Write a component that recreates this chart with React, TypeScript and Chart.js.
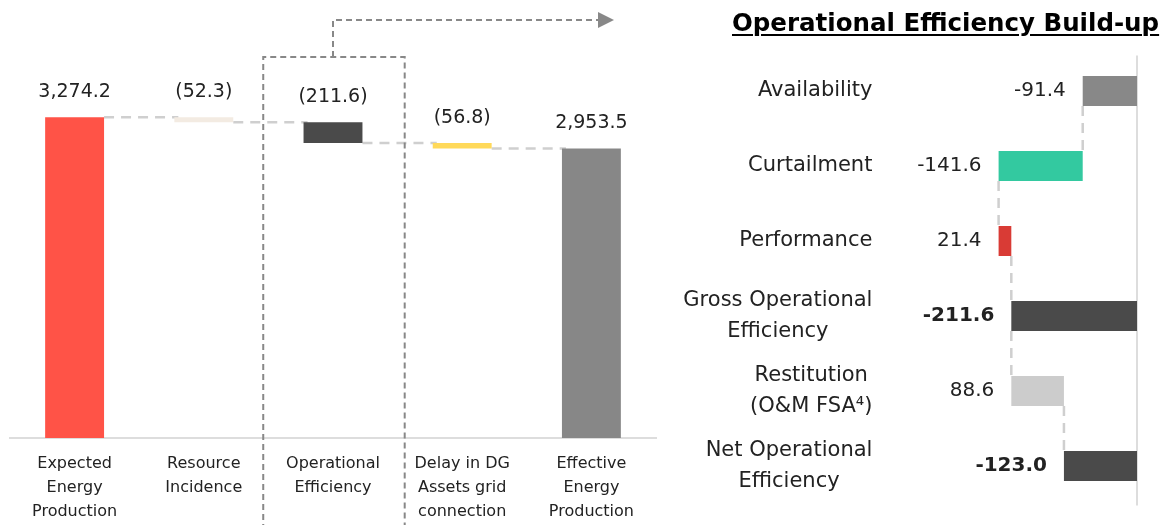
import React, { useEffect, useRef } from "react";
import { Chart, registerables } from "chart.js";

Chart.register(...registerables);

const FONT = "'DejaVu Sans', sans-serif";
const TEXT = "#222222";

// ---- Left: energy bridge ----
const bridgeCategories = [
  ["Expected", "Energy", "Production"],
  ["Resource", "Incidence"],
  ["Operational", "Efficiency"],
  ["Delay in DG", "Assets grid", "connection"],
  ["Effective", "Energy", "Production"],
];
const bridgeValues = [3274.2, -52.3, -211.6, -56.8, 2953.5];
const bridgeKinds = ["total", "delta", "delta", "delta", "total"];
const bridgeLabels = ["3,274.2", "(52.3)", "(211.6)", "(56.8)", "2,953.5"];
const bridgeColors = ["#FF5347", "#F3EBE2", "#4A4A4A", "#FFD95A", "#878787"];
const bridgeAxisMax = 4000;
const bridgeHighlight = 2;

// ---- Right: operational efficiency build-up ----
const buildCategories = [
  ["Availability"],
  ["Curtailment"],
  ["Performance"],
  ["Gross Operational", "Efficiency"],
  ["Restitution", "(O&M FSA\u2074)"],
  ["Net Operational", "Efficiency"],
];
const buildValues = [-91.4, -141.6, 21.4, -211.6, 88.6, -123.0];
const buildKinds = ["delta", "delta", "delta", "total", "delta", "total"];
const buildLabels = ["-91.4", "-141.6", "21.4", "-211.6", "88.6", "-123.0"];
const buildBold = [false, false, false, true, false, true];
const buildColors = ["#888888", "#33C9A0", "#D93B35", "#4A4A4A", "#CCCCCC", "#4A4A4A"];
const buildAxisMin = -400;

function waterfall(values: number[], kinds: string[]) {
  let run = 0;
  const ranges: [number, number][] = [];
  const levels: number[] = [];
  values.forEach((v, i) => {
    if (kinds[i] === "total") {
      run = v;
      ranges.push([0, v]);
    } else {
      const s = run;
      run += v;
      ranges.push([s, run]);
    }
    levels.push(run);
  });
  return { ranges, levels };
}

const bridgePlugin = {
  id: "bridgeDeco",
  beforeDatasetsDraw(chart: any) {
    const { ctx } = chart;
    const meta = chart.getDatasetMeta(0);
    const y = chart.scales.y;
    const { levels } = waterfall(bridgeValues, bridgeKinds);
    ctx.save();
    ctx.strokeStyle = "#CFCFCF";
    ctx.lineWidth = 2.5;
    ctx.setLineDash([10, 7]);
    for (let i = 0; i < meta.data.length - 1; i++) {
      const a = meta.data[i];
      const b = meta.data[i + 1];
      const py = y.getPixelForValue(levels[i]);
      ctx.beginPath();
      ctx.moveTo(a.x + a.width / 2, py);
      ctx.lineTo(b.x - b.width / 2 + 4, py);
      ctx.stroke();
    }
    ctx.restore();
  },
  afterDatasetsDraw(chart: any) {
    const { ctx, chartArea } = chart;
    const meta = chart.getDatasetMeta(0);
    ctx.save();
    ctx.font = `19px ${FONT}`;
    ctx.fillStyle = TEXT;
    ctx.textAlign = "center";
    ctx.textBaseline = "middle";
    meta.data.forEach((el: any, i: number) => {
      const top = Math.min(el.y, el.base);
      ctx.fillText(bridgeLabels[i], el.x, top - 25);
    });
    ctx.restore();

    // highlight box + arrow
    const x = chart.scales.x;
    const cw = (chartArea.right - chartArea.left) / bridgeCategories.length;
    const cx = x.getPixelForValue(bridgeHighlight);
    const l = cx - cw * 0.54;
    const r = cx + cw * 0.555;
    const t = chartArea.top + 11;
    const ay = chartArea.top - 26;
    const tip = chartArea.right - 42;
    ctx.save();
    ctx.strokeStyle = "#888888";
    ctx.lineWidth = 2;
    ctx.setLineDash([6, 4]);
    ctx.beginPath();
    ctx.moveTo(l, chart.height);
    ctx.lineTo(l, t);
    ctx.lineTo(r, t);
    ctx.lineTo(r, chart.height);
    ctx.stroke();
    ctx.beginPath();
    ctx.moveTo(cx, t);
    ctx.lineTo(cx, ay);
    ctx.lineTo(tip - 14, ay);
    ctx.stroke();
    ctx.setLineDash([]);
    ctx.fillStyle = "#888888";
    ctx.beginPath();
    ctx.moveTo(tip, ay);
    ctx.lineTo(tip - 16, ay - 8);
    ctx.lineTo(tip - 16, ay + 8);
    ctx.closePath();
    ctx.fill();
    ctx.restore();
  },
};

const buildPlugin = {
  id: "buildDeco",
  beforeDatasetsDraw(chart: any) {
    const { ctx, chartArea } = chart;
    const meta = chart.getDatasetMeta(0);
    const x = chart.scales.x;
    const { levels } = waterfall(buildValues, buildKinds);
    ctx.save();
    // zero line
    ctx.strokeStyle = "#DDDDDD";
    ctx.lineWidth = 2;
    const zx = x.getPixelForValue(0);
    ctx.beginPath();
    ctx.moveTo(zx, chartArea.top + 2);
    ctx.lineTo(zx, chartArea.bottom + 2);
    ctx.stroke();
    // connectors
    ctx.strokeStyle = "#CFCFCF";
    ctx.lineWidth = 2.5;
    ctx.setLineDash([10, 7]);
    for (let i = 0; i < meta.data.length - 1; i++) {
      const a = meta.data[i];
      const b = meta.data[i + 1];
      const px = x.getPixelForValue(levels[i]);
      ctx.beginPath();
      ctx.moveTo(px, a.y + a.height / 2);
      ctx.lineTo(px, b.y - b.height / 2);
      ctx.stroke();
    }
    ctx.restore();
  },
  afterDatasetsDraw(chart: any) {
    const { ctx, chartArea } = chart;
    const meta = chart.getDatasetMeta(0);
    const yS = chart.scales.y;
    ctx.save();
    ctx.fillStyle = TEXT;
    ctx.textBaseline = "middle";
    // category labels
    ctx.font = `21px ${FONT}`;
    ctx.textAlign = "center";
    const right = chartArea.left - 27;
    buildCategories.forEach((lines, i) => {
      const cy = yS.getPixelForValue(i);
      const widest = Math.max(...lines.map((s) => ctx.measureText(s).width));
      const cx = right - widest / 2;
      lines.forEach((s, j) => {
        ctx.fillText(s, cx, cy + (j - (lines.length - 1) / 2) * 31);
      });
    });
    // value labels
    ctx.textAlign = "right";
    meta.data.forEach((el: any, i: number) => {
      ctx.font = `${buildBold[i] ? "bold " : ""}20px ${FONT}`;
      const left = Math.min(el.x, el.base);
      ctx.fillText(buildLabels[i], left - 17, el.y);
    });
    ctx.restore();
  },
};

export default function App() {
  const leftRef = useRef<HTMLCanvasElement>(null);
  const rightRef = useRef<HTMLCanvasElement>(null);

  useEffect(() => {
    const left = waterfall(bridgeValues, bridgeKinds);
    const c1 = new Chart(leftRef.current as HTMLCanvasElement, {
      type: "bar",
      data: {
        labels: bridgeCategories as any,
        datasets: [
          {
            data: left.ranges as any,
            backgroundColor: bridgeColors,
            categoryPercentage: 1,
            barPercentage: 0.456,
            borderSkipped: false,
          },
        ],
      },
      options: {
        animation: false,
        responsive: true,
        maintainAspectRatio: false,
        layout: { padding: { left: 10, right: 4, top: 46, bottom: 2 } },
        plugins: { legend: { display: false }, tooltip: { enabled: false } },
        scales: {
          x: {
            grid: { display: false, drawTicks: false },
            border: { display: true, color: "#DDDDDD", width: 2 },
            ticks: {
              font: { family: FONT, size: 16, lineHeight: 1.5 },
              color: TEXT,
              padding: 14,
              maxRotation: 0,
              autoSkip: false,
            },
          },
          y: { display: false, min: 0, max: bridgeAxisMax },
        },
      },
      plugins: [bridgePlugin],
    });

    const right = waterfall(buildValues, buildKinds);
    const c2 = new Chart(rightRef.current as HTMLCanvasElement, {
      type: "bar",
      data: {
        labels: buildCategories.map((l) => l.join(" ")),
        datasets: [
          {
            data: right.ranges as any,
            backgroundColor: buildColors,
            categoryPercentage: 1,
            barPercentage: 0.4,
            borderSkipped: false,
          },
        ],
      },
      options: {
        indexAxis: "y",
        animation: false,
        responsive: true,
        maintainAspectRatio: false,
        layout: { padding: { left: 239.4, right: 26, top: 53.5, bottom: 21.5 } },
        plugins: { legend: { display: false }, tooltip: { enabled: false } },
        scales: {
          x: { display: false, min: buildAxisMin, max: 0 },
          y: { display: false },
        },
      },
      plugins: [buildPlugin],
    });

    return () => {
      c1.destroy();
      c2.destroy();
    };
  }, []);

  return (
    <div
      style={{
        position: "absolute",
        left: 0,
        top: 0,
        width: 1163,
        height: 525,
        background: "#fff",
        overflow: "hidden",
      }}
    >
      <div style={{ position: "absolute", left: 0, top: 0, width: 660, height: 540 }}>
        <canvas ref={leftRef} />
      </div>
      <div style={{ position: "absolute", left: 660, top: 0, width: 503, height: 525 }}>
        <canvas ref={rightRef} />
      </div>
      <div
        style={{
          position: "absolute",
          left: 732,
          top: 7,
          fontFamily: FONT,
          fontWeight: 700,
          fontSize: 24.5,
          lineHeight: "32px",
          color: "#000",
          textDecoration: "underline",
          textDecorationThickness: "2px",
          textUnderlineOffset: "3px",
          whiteSpace: "nowrap",
        }}
      >
        Operational Efficiency Build-up
      </div>
    </div>
  );
}
